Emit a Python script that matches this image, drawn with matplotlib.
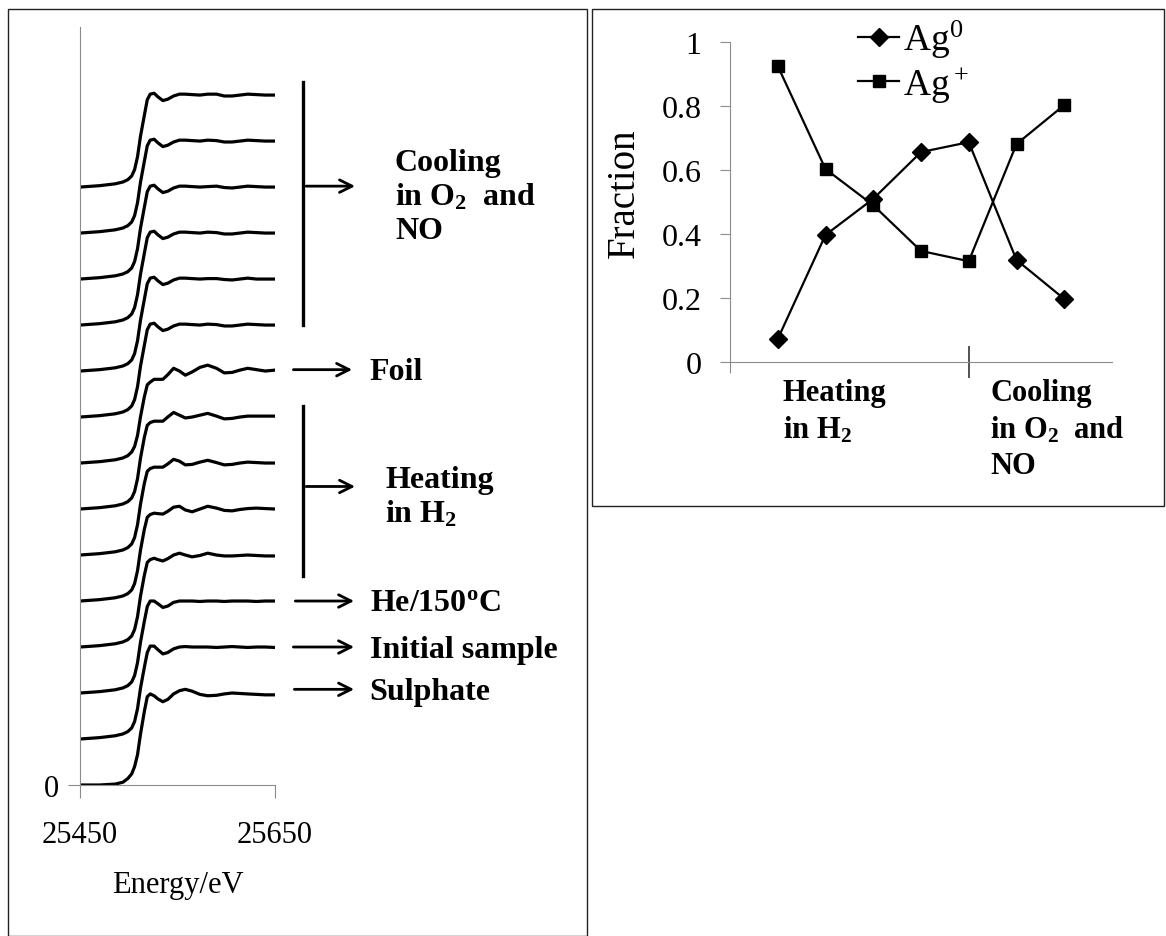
import matplotlib
matplotlib.use("Agg")
import matplotlib.pyplot as plt
from matplotlib.patches import Rectangle
from matplotlib.ticker import FixedLocator

plt.rcParams['font.family'] = ['Liberation Serif', 'DejaVu Serif']
plt.rcParams['mathtext.fontset'] = 'custom'
plt.rcParams['mathtext.rm'] = 'Liberation Serif'
plt.rcParams['mathtext.it'] = 'Liberation Serif'
plt.rcParams['mathtext.bf'] = 'Liberation Serif:bold'

# ---- left panel: XANES spectra (normalised, stacked) ----
energy = [25450, 25470, 25486, 25494, 25499, 25503, 25506, 25509, 25512, 25516,
          25519, 25522, 25526, 25530, 25535, 25540, 25546, 25552, 25558, 25565,
          25573, 25581, 25590, 25598, 25606, 25614, 25622, 25631, 25640, 25650]

# bottom to top, each curve offset by 0.5
sulphate = [0.00, 0.00, 0.01, 0.03, 0.07, 0.12, 0.20, 0.33, 0.55, 0.80, 0.96,
            0.99, 0.97, 0.935, 0.905, 0.93, 0.99, 1.025, 1.04, 1.02, 0.985, 0.97,
            0.975, 0.99, 1.0, 0.995, 0.99, 0.985, 0.98, 0.98]
initial = [0.00, 0.015, 0.035, 0.055, 0.08, 0.12, 0.19, 0.33, 0.55, 0.78, 0.94,
           1.01, 1.01, 0.97, 0.925, 0.94, 0.98, 1.0, 1.005, 1.0, 1.0, 1.0,
           0.995, 1.0, 1.005, 1.0, 0.995, 1.0, 1.0, 0.995]
he_150 = [0.00, 0.015, 0.035, 0.055, 0.08, 0.12, 0.19, 0.33, 0.55, 0.78, 0.94,
          1.0, 1.0, 0.97, 0.93, 0.945, 0.985, 1.0, 1.0, 1.0, 0.995, 1.0,
          1.0, 0.995, 1.0, 1.0, 1.0, 0.995, 1.0, 1.0]
heat_1 = [0.00, 0.015, 0.035, 0.055, 0.08, 0.12, 0.19, 0.33, 0.55, 0.78, 0.92,
          0.95, 0.965, 0.95, 0.935, 0.96, 1.0, 1.02, 1.0, 0.98, 0.995, 1.02,
          1.0, 0.99, 0.99, 0.995, 1.0, 0.995, 0.99, 0.99]
heat_2 = [0.00, 0.015, 0.035, 0.055, 0.08, 0.12, 0.19, 0.33, 0.55, 0.78, 0.91,
          0.94, 0.955, 0.95, 0.945, 0.975, 1.02, 1.03, 0.99, 0.97, 1.0, 1.03,
          1.01, 0.985, 0.98, 0.995, 1.005, 1.01, 1.005, 1.0]
heat_3 = [0.00, 0.015, 0.035, 0.055, 0.08, 0.12, 0.19, 0.33, 0.55, 0.78, 0.91,
          0.94, 0.955, 0.955, 0.955, 0.99, 1.04, 1.02, 0.98, 0.985, 1.01, 1.03,
          1.005, 0.98, 0.985, 1.0, 1.01, 1.005, 1.0, 1.0]
heat_4 = [0.00, 0.015, 0.035, 0.055, 0.08, 0.12, 0.19, 0.33, 0.55, 0.78, 0.91,
          0.94, 0.955, 0.955, 0.955, 1.0, 1.05, 1.02, 0.99, 1.0, 1.02, 1.04,
          1.01, 0.98, 0.985, 1.0, 1.01, 1.01, 1.01, 1.01]
foil = [0.00, 0.015, 0.035, 0.055, 0.08, 0.12, 0.18, 0.30, 0.50, 0.72, 0.85,
        0.88, 0.91, 0.91, 0.91, 0.96, 1.03, 1.0, 0.955, 0.99, 1.04, 1.064,
        1.03, 0.98, 0.985, 1.01, 1.03, 1.015, 1.0, 1.01]
cool_1 = [0.00, 0.015, 0.035, 0.055, 0.08, 0.12, 0.19, 0.33, 0.55, 0.78, 0.95,
          1.01, 1.02, 0.98, 0.94, 0.955, 0.99, 1.01, 1.01, 1.005, 1.0, 1.01,
          1.005, 0.99, 0.99, 1.0, 1.01, 1.005, 1.0, 1.0]
cool_2 = [0.00, 0.015, 0.035, 0.055, 0.08, 0.12, 0.19, 0.33, 0.55, 0.78, 0.95,
          1.01, 1.02, 0.98, 0.94, 0.955, 0.99, 1.01, 1.01, 1.005, 1.0, 1.005,
          1.005, 0.995, 0.99, 1.0, 1.01, 1.0, 1.0, 1.0]
cool_3 = [0.00, 0.015, 0.035, 0.055, 0.08, 0.12, 0.19, 0.33, 0.55, 0.78, 0.95,
          1.01, 1.02, 0.98, 0.94, 0.955, 0.99, 1.01, 1.01, 1.005, 1.0, 1.01,
          1.005, 0.99, 0.99, 1.0, 1.01, 1.005, 1.0, 1.0]
cool_4 = [0.00, 0.015, 0.035, 0.055, 0.08, 0.12, 0.19, 0.33, 0.55, 0.78, 0.95,
          1.01, 1.02, 0.98, 0.94, 0.955, 0.99, 1.01, 1.01, 1.005, 1.0, 1.005,
          1.01, 0.995, 0.99, 1.0, 1.01, 1.005, 1.0, 1.0]
cool_5 = [0.00, 0.015, 0.035, 0.055, 0.08, 0.12, 0.19, 0.33, 0.55, 0.78, 0.95,
          1.01, 1.02, 0.98, 0.94, 0.955, 0.99, 1.01, 1.01, 1.005, 1.0, 1.01,
          1.005, 0.99, 0.99, 1.0, 1.01, 1.005, 1.0, 1.0]
cool_6 = [0.00, 0.015, 0.035, 0.055, 0.08, 0.12, 0.19, 0.33, 0.55, 0.78, 0.95,
          1.01, 1.02, 0.98, 0.94, 0.955, 0.99, 1.01, 1.01, 1.005, 1.0, 1.01,
          1.01, 0.99, 0.99, 1.0, 1.01, 1.005, 1.0, 1.0]

spectra = [sulphate, initial, he_150, heat_1, heat_2, heat_3, heat_4, foil,
           cool_1, cool_2, cool_3, cool_4, cool_5, cool_6]
offset_step = 0.5

# ---- right panel: fractions ----
step = [1, 2, 3, 4, 5, 6, 7]
ag0 = [0.072, 0.397, 0.51, 0.656, 0.687, 0.319, 0.197]
ag_plus = [0.925, 0.603, 0.49, 0.347, 0.315, 0.681, 0.803]

W, H = 1166, 937
fig = plt.figure(figsize=(W / 100, H / 100), dpi=100)

def box(l, t, r, b):
    return [l / W, 1 - b / H, (r - l) / W, (b - t) / H]

# panel frames
fig.add_artist(Rectangle((8 / W, 0), 579 / W, 1 - 10 / H, transform=fig.transFigure,
                         fill=False, ec='#222222', lw=1.0))
fig.add_artist(Rectangle((592 / W, 1 - 507 / H), 572 / W, 497 / H, transform=fig.transFigure,
                         fill=False, ec='#222222', lw=1.0))

grey = '#8c8c8c'

ax = fig.add_axes(box(80, 28, 275, 786))
for i, s in enumerate(spectra):
    ax.plot(energy, [v + i * offset_step for v in s], color='black', lw=2.3,
            solid_joinstyle='round')
ax.set_xlim(25450, 25650)
ax.set_ylim(0, 8.24)
for sp in ['top', 'right']:
    ax.spines[sp].set_visible(False)
for sp in ['left', 'bottom']:
    ax.spines[sp].set_color(grey)
ax.set_yticks([0])
ax.set_xticks([25450, 25650])
ax.tick_params(axis='both', direction='out', length=9, color=grey,
               labelsize=22)
ax.tick_params(axis='x', pad=16)
ax.tick_params(axis='y', pad=6)
ax.set_xlabel('Energy/eV', fontsize=22, labelpad=15)

# brackets and arrows (data coords of the spectra axes)
def arrow(x0, x1, y):
    ax.annotate('', xy=(x1, y), xytext=(x0, y), annotation_clip=False,
                arrowprops=dict(arrowstyle='->,head_length=0.9,head_width=0.45',
                                lw=2.0, color='black'))

def bracket(x, y0, y1):
    ax.plot([x, x], [y0, y1], color='black', lw=2.4, clip_on=False)

lab = dict(fontsize=23, fontweight='bold', ha='left', va='center',
           linespacing=1.18, annotation_clip=False)

bracket(25679, 5.00, 7.64)
arrow(25679, 25735, 6.51)
ax.annotate('Cooling\nin O$_\\mathbf{2}$  and\nNO', xy=(25773, 6.40), **lab)

arrow(25666, 25732, 4.515)
ax.annotate('Foil', xy=(25747, 4.49), **lab)

bracket(25679, 2.27, 4.12)
arrow(25679, 25735, 3.245)
ax.annotate('Heating\nin H$_\\mathbf{2}$', xy=(25763, 3.13), **lab)

arrow(25668, 25734, 2.0)
ax.annotate('He/150$^\\mathbf{o}$C', xy=(25747, 1.98), **lab)
arrow(25666, 25734, 1.5)
ax.annotate('Initial sample', xy=(25747, 1.47), **lab)
arrow(25667, 25734, 1.04)
ax.annotate('Sulphate', xy=(25747, 1.02), **lab)

# right panel
ax2 = fig.add_axes(box(730, 43, 1112, 363))
ax2.plot(step, ag0, color='black', lw=1.6, marker='D', ms=9, label='Ag$^0$')
ax2.plot(step, ag_plus, color='black', lw=1.6, marker='s', ms=8.5, label='Ag$^+$')
ax2.set_xlim(0, 8)
ax2.set_ylim(0, 1)
for sp in ['top', 'right']:
    ax2.spines[sp].set_visible(False)
for sp in ['left', 'bottom']:
    ax2.spines[sp].set_color(grey)
ax2.set_yticks([0, 0.2, 0.4, 0.6, 0.8, 1.0])
ax2.set_yticklabels(['0', '0.2', '0.4', '0.6', '0.8', '1'])
ax2.tick_params(axis='y', direction='out', length=7.5, color=grey, labelsize=23, pad=13)
ax2.set_xticks([0])
ax2.set_xticklabels([])
ax2.tick_params(axis='x', which='major', direction='out', length=8, color=grey)
ax2.xaxis.set_minor_locator(FixedLocator([5]))
ax2.tick_params(axis='x', which='minor', direction='inout', length=23, width=1.2,
                color='#333333')
ax2.set_ylabel('Fraction', fontsize=28)
ax2.yaxis.set_label_coords(-0.228, 0.53)

ax2.text(1.1, -0.05, 'Heating\nin H$_\\mathbf{2}$', fontsize=22, fontweight='bold',
         ha='left', va='top', linespacing=1.3)
ax2.text(5.45, -0.05, 'Cooling\nin O$_\\mathbf{2}$  and\nNO', fontsize=22,
         fontweight='bold', ha='left', va='top', linespacing=1.3)

ax2.legend(loc='upper left', bbox_to_anchor=(0.335, 1.075), frameon=False,
           fontsize=27, handlelength=1.1, handletextpad=0.1, labelspacing=0.1,
           borderaxespad=0, borderpad=0)

fig.savefig('out.png', dpi=100)
